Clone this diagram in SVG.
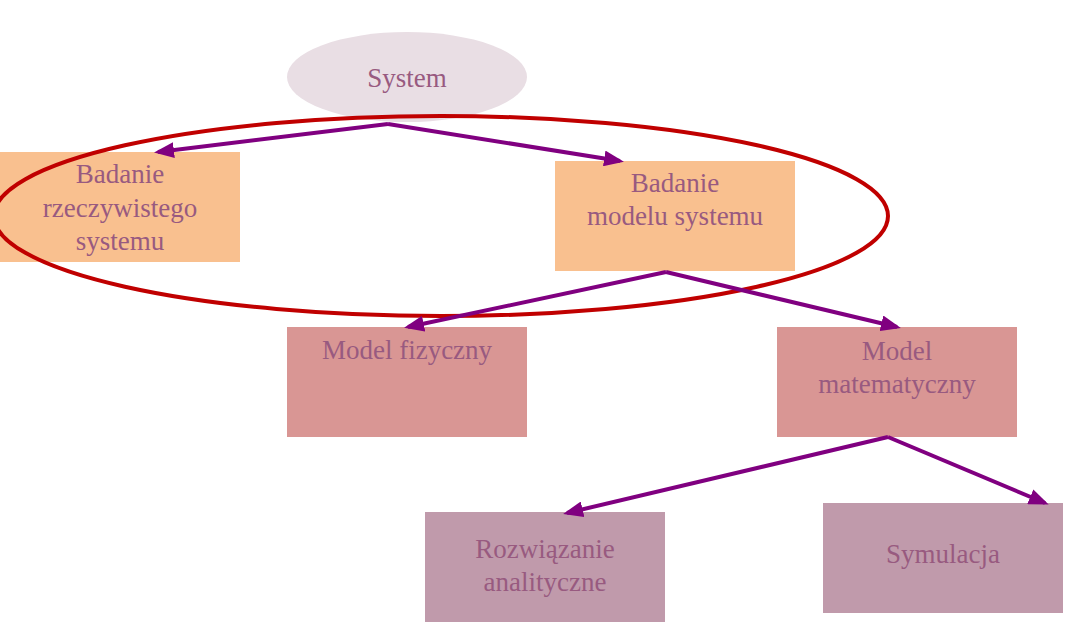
<svg xmlns="http://www.w3.org/2000/svg" width="1079" height="641" viewBox="0 0 1079 641">
<style>
.t{font-family:"Liberation Serif","Times New Roman",serif;font-size:27px;fill:#985a80;text-anchor:middle}
.orange{fill:#f9c08f}
.rose{fill:#d99694}
.mauve{fill:#c09aab}
.conn{stroke:#800080;stroke-width:4;fill:none}
</style>
<defs>
<marker id="ah" markerWidth="5" markerHeight="4" refX="4" refY="2" orient="auto" markerUnits="strokeWidth">
<path d="M0,0 L5,2 L0,4 Z" fill="#800080"/>
</marker>
</defs>
<rect width="1079" height="641" fill="#ffffff"/>
<g id="system">
<ellipse cx="407" cy="77" rx="120" ry="45" fill="#e9dee4"/>
<text class="t" x="407" y="87">System</text>
</g>
<g id="badanie-rzeczywistego">
<rect class="orange" x="0" y="152" width="240" height="110"/>
<text class="t" x="120" y="183">Badanie</text>
<text class="t" x="120" y="217">rzeczywistego</text>
<text class="t" x="120" y="250">systemu</text>
</g>
<g id="badanie-modelu">
<rect class="orange" x="555" y="161" width="240" height="110"/>
<text class="t" x="675" y="192">Badanie</text>
<text class="t" x="675" y="225">modelu systemu</text>
</g>
<g id="model-fizyczny">
<rect class="rose" x="287" y="327" width="240" height="110"/>
<text class="t" x="407" y="359">Model fizyczny</text>
</g>
<g id="model-matematyczny">
<rect class="rose" x="777" y="327" width="240" height="110"/>
<text class="t" x="897" y="360">Model</text>
<text class="t" x="897" y="393">matematyczny</text>
</g>
<g id="rozwiazanie">
<rect class="mauve" x="425" y="512" width="240" height="110"/>
<text class="t" x="545" y="558">Rozwiązanie</text>
<text class="t" x="545" y="591">analityczne</text>
</g>
<g id="symulacja">
<rect class="mauve" x="823" y="503" width="240" height="110"/>
<text class="t" x="943" y="563">Symulacja</text>
</g>
<g id="highlight">
<ellipse cx="441" cy="216" rx="447" ry="100" fill="none" stroke="#c00000" stroke-width="4"/>
</g>
<g id="connectors">
<path class="conn" d="M388,124 L158,152" marker-end="url(#ah)"/>
<path class="conn" d="M388,124 L620,161" marker-end="url(#ah)"/>
<path class="conn" d="M666,272 L408,327" marker-end="url(#ah)"/>
<path class="conn" d="M666,272 L897,327" marker-end="url(#ah)"/>
<path class="conn" d="M888,437 L567,513" marker-end="url(#ah)"/>
<path class="conn" d="M888,437 L1045,503" marker-end="url(#ah)"/>
</g>
</svg>
